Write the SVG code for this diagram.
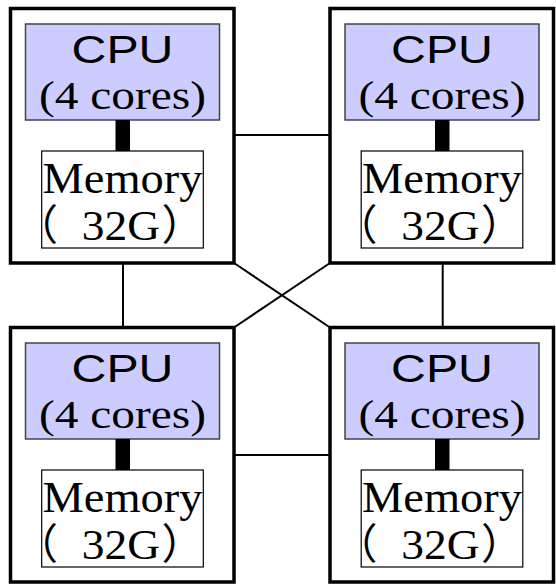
<svg xmlns="http://www.w3.org/2000/svg" width="556" height="584" viewBox="0 0 556 584">
  <style>
    .node { fill: #ffffff; stroke: #000000; stroke-width: 3.5; }
    .cpu { fill: #ccccff; stroke: #444444; stroke-width: 1.5; }
    .mem { fill: #ffffff; stroke: #000000; stroke-width: 1.2; }
    .bus { fill: #000000; }
    .link { stroke: #000000; stroke-width: 2; fill: none; }
    .sans { font-family: "Liberation Sans", Arial, sans-serif; font-size: 39px; fill: #000; }
    .serif { font-family: "Liberation Serif", "Noto Sans CJK JP", serif; fill: #000; }
  </style>
  <defs>
    <!-- one socket: outer board, CPU, memory bus and memory bank -->
    <g id="socket">
      <rect class="node" x="0" y="0" width="223.5" height="254.5"/>
      <rect class="cpu" x="15" y="15.5" width="194" height="96"/>
      <rect class="bus" x="105" y="111.5" width="14.5" height="31"/>
      <rect class="mem" x="31.2" y="142.5" width="161.6" height="97"/>
      <text class="sans" x="112" y="54.5" text-anchor="middle" textLength="102" lengthAdjust="spacingAndGlyphs">CPU</text>
      <text class="serif" x="112" y="100" font-size="41" text-anchor="middle" textLength="167" lengthAdjust="spacingAndGlyphs">(4 cores)</text>
      <text class="serif" x="112" y="184.8" font-size="45" text-anchor="middle" textLength="160" lengthAdjust="spacingAndGlyphs">Memory</text>
      <text class="serif" y="231.5" font-size="42"><tspan x="5.5">（</tspan><tspan x="71.2" textLength="78.3" lengthAdjust="spacingAndGlyphs">32G</tspan><tspan x="151">）</tspan></text>
    </g>
  </defs>

  <!-- interconnect between sockets -->
  <g id="connectors">
    <line class="link" x1="234" y1="135" x2="330" y2="135"/>
    <line class="link" x1="234" y1="455" x2="330" y2="455"/>
    <line class="link" x1="123" y1="263" x2="123" y2="327.5"/>
    <line class="link" x1="442.7" y1="263" x2="442.7" y2="327.5"/>
    <line class="link" x1="234" y1="263" x2="330" y2="327.5"/>
    <line class="link" x1="330" y1="263" x2="234" y2="327.5"/>
  </g>

  <g id="node-top-left" transform="translate(10.5,8.5)"><use href="#socket"/></g>
  <g id="node-top-right" transform="translate(330,8.5)"><use href="#socket"/></g>
  <g id="node-bottom-left" transform="translate(10.5,327.5)"><use href="#socket"/></g>
  <g id="node-bottom-right" transform="translate(330,327.5)"><use href="#socket"/></g>
</svg>
